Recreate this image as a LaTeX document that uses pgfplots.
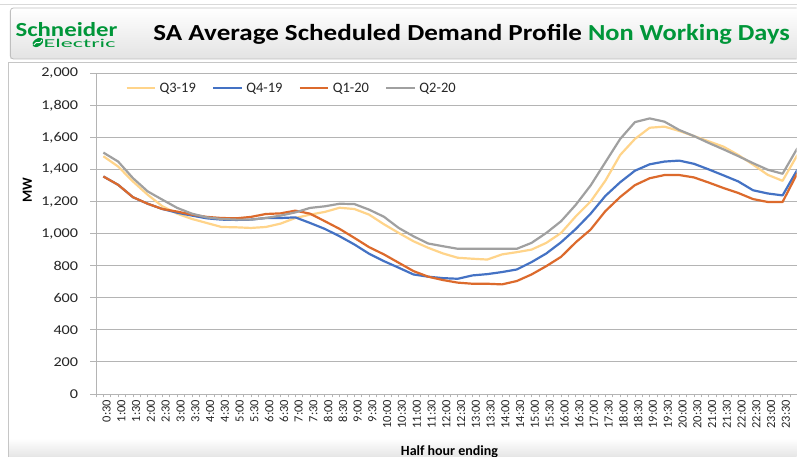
\documentclass[border=0pt]{standalone}
\usepackage{pgfplots}
\pgfplotsset{compat=1.18}
\usepackage{pgfplotstable}
\usepackage{graphicx}
\usepackage{fontspec}
\setmainfont{Carlito}
\definecolor{cQ3}{RGB}{255,212,138}
\definecolor{cQ4}{RGB}{68,114,196}
\definecolor{cQ1}{RGB}{220,106,44}
\definecolor{cQ2}{RGB}{160,160,160}
\definecolor{seg}{RGB}{0,150,57}
\definecolor{gridc}{RGB}{180,180,180}

\pgfplotstableread{
i q3 q4 q1 q2
0 1482 1356 1356 1505
1 1418 1304 1304 1449
2 1325 1227 1227 1346
3 1242 1186 1186 1263
4 1170 1153 1153 1211
5 1124 1130 1137 1160
6 1091 1112 1118 1124
7 1066 1095 1104 1101
8 1041 1087 1097 1091
9 1039 1085 1095 1087
10 1035 1087 1104 1087
11 1041 1097 1122 1097
12 1062 1097 1126 1112
13 1097 1101 1143 1132
14 1118 1066 1124 1160
15 1135 1029 1077 1170
16 1161 983 1029 1186
17 1153 932 973 1184
18 1118 874 915 1149
19 1058 828 870 1105
20 1004 787 818 1035
21 952 745 766 983
22 911 731 731 938
23 876 722 710 921
24 849 718 694 905
25 843 739 687 905
26 838 747 687 905
27 870 760 683 905
28 884 776 704 905
29 900 822 745 942
30 942 876 797 1004
31 1004 946 855 1077
32 1108 1029 946 1180
33 1200 1124 1025 1300
34 1330 1235 1140 1445
35 1490 1320 1228 1590
36 1590 1392 1302 1695
37 1660 1432 1345 1718
38 1667 1449 1365 1698
39 1640 1455 1365 1646
40 1608 1435 1350 1608
41 1575 1400 1318 1565
42 1542 1363 1284 1525
43 1490 1325 1253 1483
44 1430 1270 1215 1439
45 1366 1250 1197 1398
46 1329 1238 1197 1373
47 1490 1398 1377 1532
}\data

\begin{document}
\begin{tikzpicture}[x=1pt,y=1pt]
\fill[white] (0,0) rectangle (797,457);
% top thin line
\draw[gray!30, line width=0.8pt] (0,453) -- (797,453);
% plot panel
\shade[top color=white, bottom color=gray!20] (8.5,0) rectangle (797,18);
\draw[gray!45, line width=0.8pt] (8,0) -- (8,395) -- (797,395);
% title bar
\shade[top color=white, bottom color=gray!22] (10,398) rectangle (797,449);
\draw[gray!50, line width=0.8pt, rounded corners=3pt] (797,398) -- (10,398) -- (10,449) -- (797,449);
% logo
\node[anchor=base west, inner sep=0pt, text=seg, font=\fontsize{20}{20}\selectfont\bfseries] at (15,420.3) {\resizebox{102pt}{\height}{Schneider}};
\node[anchor=base west, inner sep=0pt, text=seg, font=\fontsize{12}{12}\selectfont] at (43,409.5) {\resizebox{72pt}{\height}{Electric}};
\fill[seg, rotate around={35:(37.5,414.5)}] (37.5,414.5) ellipse (6.2 and 3.8);
\draw[white, line width=0.9pt] (33.5,412) .. controls (36.5,417.5) and (38.5,411) .. (41.5,417);
% title
\node[anchor=base west, inner sep=0pt, font=\fontsize{23}{23}\selectfont\bfseries] at (153,416.3) {\resizebox{429pt}{\height}{SA Average Scheduled Demand Profile}};
\node[anchor=base west, inner sep=0pt, text=seg, font=\fontsize{23}{23}\selectfont\bfseries] at (588,416.3) {\resizebox{202pt}{\height}{Non Working Days}};

\begin{axis}[
  at={(103.09pt,62.7pt)}, anchor=origin,
  scale only axis, width=701.3pt, height=321pt,
  xmin=-0.5, xmax=46.95, ymin=0, ymax=2000,
  axis x line*=bottom, axis y line*=left,
  axis line style={draw=gridc, line width=0.8pt, -},
  xtick pos=bottom, ytick pos=left,
  tick align=outside,
  major tick length=5.7pt, minor tick length=3.5pt,
  tick style={draw=gridc, line width=0.8pt},
  major x tick style={draw=none},
  ytick={0,200,...,2000},
  ymajorgrids, grid style={draw=gridc, line width=0.8pt},
  xtick={0,...,46},
  minor xtick={-0.5,0,0.5,...,46.5},
  xticklabels={0:30,1:00,1:30,2:00,2:30,3:00,3:30,4:00,4:30,5:00,5:30,6:00,6:30,7:00,7:30,8:00,8:30,9:00,9:30,10:00,10:30,11:00,11:30,12:00,12:30,13:00,13:30,14:00,14:30,15:00,15:30,16:00,16:30,17:00,17:30,18:00,18:30,19:00,19:30,20:00,20:30,21:00,21:30,22:00,22:30,23:00,23:30},
  /pgf/number format/1000 sep={,},
  /pgf/number format/assume math mode=true,
  yticklabel={\scalebox{1.2}[1]{\pgfmathprintnumber{\tick}}},
  ticklabel style={font=\fontsize{13.5}{13.5}\selectfont, text=black!85},
  yticklabel style={inner sep=0pt, anchor=east, xshift=-12pt},
  xticklabel style={inner sep=0pt, rotate=90, anchor=east, yshift=-3.3pt, font=\fontsize{12.5}{12.5}\selectfont},
  ylabel={MW},
  ylabel style={at={(axis description cs:-0.0979,0.636)}, anchor=center, rotate=0, font=\fontsize{14}{14}\selectfont\bfseries},
  xlabel={Half hour ending},
  xlabel style={overlay, at={(axis description cs:0.5045,0)}, anchor=base, yshift=-61.4pt, font=\fontsize{14}{14}\selectfont\bfseries},
  legend columns=4,
  legend style={at={(axis description cs:0.0418,0.953)}, anchor=west, draw=none, fill=none, inner sep=0pt,
    font=\fontsize{14.5}{14.5}\selectfont, text=black!85,
    /tikz/every odd column/.style={column sep=3.5pt},
    /tikz/every even column/.style={column sep=0pt},
    nodes={inner sep=0pt, text width=52.5pt, align=left}},
  legend image code/.code={\draw[#1] (0pt,0pt) -- (28.5pt,0pt);},
  every axis plot/.append style={line width=2.2pt, line join=round, mark=none},
]
\addplot[cQ3] table[x=i,y=q3]{\data};
\addlegendentry{Q3-19}
\addplot[cQ4] table[x=i,y=q4]{\data};
\addlegendentry{Q4-19}
\addplot[cQ1] table[x=i,y=q1]{\data};
\addlegendentry{Q1-20}
\addplot[cQ2] table[x=i,y=q2]{\data};
\addlegendentry{Q2-20}
\end{axis}
\end{tikzpicture}
\end{document}
